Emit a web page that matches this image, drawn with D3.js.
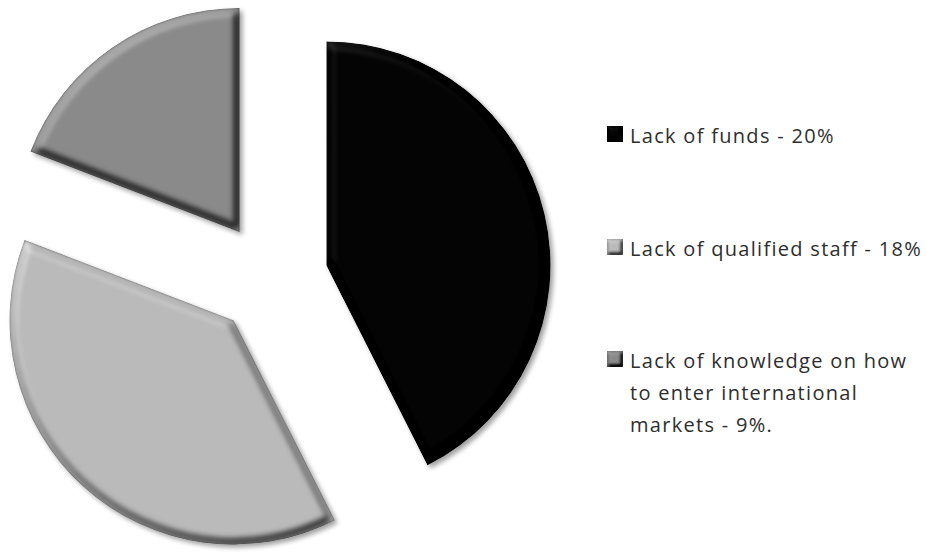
<!DOCTYPE html>
<html>
<head>
<meta charset="utf-8">
<style>
html,body{margin:0;padding:0;background:#fff;}
svg{display:block;}
text{font-family:"Open Sans",sans-serif;font-size:20px;letter-spacing:1.3px;fill:#2e2e2e;}
</style>
<script src="https://cdn.jsdelivr.net/npm/d3@7"></script>
</head>
<body>
<svg id="chart" width="927" height="552"></svg>
<script>
// Barriers to exporting: slice values and their legend wording
const categories = ["Lack of funds", "Lack of qualified staff", "Lack of knowledge"];
const values = [20, 18, 9];
const sliceColors = ["#040404", "#bababa", "#8a8a8a"];
const legendLines = [
  ["Lack of funds - 20%"],
  ["Lack of qualified staff - 18%"],
  ["Lack of knowledge on how", "to enter international", "markets - 9%."]
];

const width = 927, height = 552;
const cx = 271.5, cy = 278.5, radius = 224, explode = 56.5;
const legendX = 607, textX = 630, swatch = 16;
const legendBaselines = [143, 256, 368];
const lineStep = 32;

const svg = d3.select("#chart");
const defs = svg.append("defs");

// Bevel: a plateau is lit from the upper left, a dark rim follows the outline,
// and an optional soft shadow falls to the lower right.
function bevel(id, inset, blur, scale, rimBlur, rimOpacity, shadow) {
  const f = defs.append("filter").attr("id", id)
    .attr("x", "-15%").attr("y", "-15%").attr("width", "130%").attr("height", "130%")
    .attr("color-interpolation-filters", "sRGB");
  f.append("feMorphology").attr("in", "SourceAlpha").attr("operator", "erode")
    .attr("radius", inset).attr("result", "plateau");
  f.append("feGaussianBlur").attr("in", "plateau").attr("stdDeviation", blur).attr("result", "soft");
  const light = f.append("feDiffuseLighting").attr("in", "soft")
    .attr("surfaceScale", scale).attr("diffuseConstant", 1)
    .attr("lighting-color", "#fff").attr("result", "lit");
  light.append("feDistantLight").attr("azimuth", 235).attr("elevation", 60);
  f.append("feGaussianBlur").attr("in", "lit").attr("stdDeviation", 0.8).attr("result", "litSoft");
  f.append("feComposite").attr("in", "SourceGraphic").attr("in2", "litSoft")
    .attr("operator", "arithmetic")
    .attr("k1", 0).attr("k2", 1).attr("k3", 0.9).attr("k4", -0.78).attr("result", "shaded");
  f.append("feComposite").attr("in", "shaded").attr("in2", "SourceAlpha")
    .attr("operator", "in").attr("result", "body");

  // Dark rim fading inward from the outline
  f.append("feGaussianBlur").attr("in", "SourceAlpha").attr("stdDeviation", rimBlur).attr("result", "innerSoft");
  f.append("feFlood").attr("flood-color", "#000").attr("flood-opacity", rimOpacity).attr("result", "ink");
  f.append("feComposite").attr("in", "ink").attr("in2", "innerSoft").attr("operator", "out").attr("result", "ring");
  f.append("feComposite").attr("in", "ring").attr("in2", "SourceAlpha").attr("operator", "in").attr("result", "rim");

  if (shadow) {
    f.append("feGaussianBlur").attr("in", "SourceAlpha").attr("stdDeviation", 2.5).attr("result", "sb");
    f.append("feOffset").attr("in", "sb").attr("dx", 3).attr("dy", 3).attr("result", "so");
    f.append("feComponentTransfer").attr("in", "so").attr("result", "sf")
      .append("feFuncA").attr("type", "linear").attr("slope", 0.38);
  }
  const m = f.append("feMerge");
  if (shadow) m.append("feMergeNode").attr("in", "sf");
  m.append("feMergeNode").attr("in", "body");
  m.append("feMergeNode").attr("in", "rim");
}
bevel("sliceBevel", 3, 3.2, 3.4, 1.6, 0.5, true);
bevel("keyBevel", 1, 1.2, 2.2, 0.8, 0.3, false);

const pie = d3.pie().sort(null).value(d => d)(values);
const arc = d3.arc().innerRadius(0).outerRadius(radius);

svg.append("g").attr("transform", `translate(${cx},${cy})`)
  .selectAll("path").data(pie).join("path")
  .attr("d", arc)
  .attr("fill", (d, i) => sliceColors[i])
  .attr("filter", "url(#sliceBevel)")
  .attr("transform", d => {
    const mid = (d.startAngle + d.endAngle) / 2;
    return `translate(${explode * Math.sin(mid)},${-explode * Math.cos(mid)})`;
  });

const legend = svg.append("g");
const rows = legend.selectAll("g").data(categories).join("g");
rows.append("rect")
  .attr("x", legendX)
  .attr("y", (d, i) => legendBaselines[i] - swatch - 1)
  .attr("width", swatch).attr("height", swatch)
  .attr("fill", (d, i) => sliceColors[i])
  .attr("filter", "url(#keyBevel)");
rows.each(function (d, i) {
  d3.select(this).selectAll("text").data(legendLines[i]).join("text")
    .attr("x", textX)
    .attr("y", (t, j) => legendBaselines[i] + j * lineStep)
    .text(t => t);
});
</script>
</body>
</html>
